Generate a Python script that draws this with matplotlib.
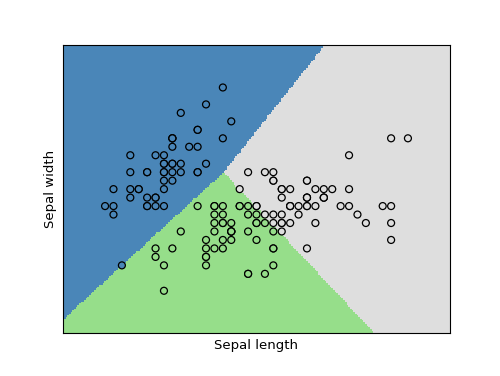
import numpy as np
import matplotlib
matplotlib.use("Agg")
import matplotlib.pyplot as plt
from matplotlib.colors import ListedColormap

# iris, first two features (sepal length, sepal width)
sepal_length = [
    5.1, 4.9, 4.7, 4.6, 5.0, 5.4, 4.6, 5.0, 4.4, 4.9, 5.4, 4.8, 4.8, 4.3, 5.8, 5.7, 5.4, 5.1, 5.7, 5.1,
    5.4, 5.1, 4.6, 5.1, 4.8, 5.0, 5.0, 5.2, 5.2, 4.7, 4.8, 5.4, 5.2, 5.5, 4.9, 5.0, 5.5, 4.9, 4.4, 5.1,
    5.0, 4.5, 4.4, 5.0, 5.1, 4.8, 5.1, 4.6, 5.3, 5.0,
    7.0, 6.4, 6.9, 5.5, 6.5, 5.7, 6.3, 4.9, 6.6, 5.2, 5.0, 5.9, 6.0, 6.1, 5.6, 6.7, 5.6, 5.8, 6.2, 5.6,
    5.9, 6.1, 6.3, 6.1, 6.4, 6.6, 6.8, 6.7, 6.0, 5.7, 5.5, 5.5, 5.8, 6.0, 5.4, 6.0, 6.7, 6.3, 5.6, 5.5,
    5.5, 6.1, 5.8, 5.0, 5.6, 5.7, 5.7, 6.2, 5.1, 5.7,
    6.3, 5.8, 7.1, 6.3, 6.5, 7.6, 4.9, 7.3, 6.7, 7.2, 6.5, 6.4, 6.8, 5.7, 5.8, 6.4, 6.5, 7.7, 7.7, 6.0,
    6.9, 5.6, 7.7, 6.3, 6.7, 7.2, 6.2, 6.1, 6.4, 7.2, 7.4, 7.9, 6.4, 6.3, 6.1, 7.7, 6.3, 6.4, 6.0, 6.9,
    6.7, 6.9, 5.8, 6.8, 6.7, 6.7, 6.3, 6.5, 6.2, 5.9]
sepal_width = [
    3.5, 3.0, 3.2, 3.1, 3.6, 3.9, 3.4, 3.4, 2.9, 3.1, 3.7, 3.4, 3.0, 3.0, 4.0, 4.4, 3.9, 3.5, 3.8, 3.8,
    3.4, 3.7, 3.6, 3.3, 3.4, 3.0, 3.4, 3.5, 3.4, 3.2, 3.1, 3.4, 4.1, 4.2, 3.1, 3.2, 3.5, 3.6, 3.0, 3.4,
    3.5, 2.3, 3.2, 3.5, 3.8, 3.0, 3.8, 3.2, 3.7, 3.3,
    3.2, 3.2, 3.1, 2.3, 2.8, 2.8, 3.3, 2.4, 2.9, 2.7, 2.0, 3.0, 2.2, 2.9, 2.9, 3.1, 3.0, 2.7, 2.2, 2.5,
    3.2, 2.8, 2.5, 2.8, 2.9, 3.0, 2.8, 3.0, 2.9, 2.6, 2.4, 2.4, 2.7, 2.7, 3.0, 3.4, 3.1, 2.3, 3.0, 2.5,
    2.6, 3.0, 2.6, 2.3, 2.7, 3.0, 2.9, 2.9, 2.5, 2.8,
    3.3, 2.7, 3.0, 2.9, 3.0, 3.0, 2.5, 2.9, 2.5, 3.6, 3.2, 2.7, 3.0, 2.5, 2.8, 3.2, 3.0, 3.8, 2.6, 2.2,
    3.2, 2.8, 2.8, 2.7, 3.3, 3.2, 2.8, 3.0, 2.8, 3.0, 2.8, 3.8, 2.8, 2.8, 2.6, 3.0, 3.4, 3.1, 3.0, 3.1,
    3.1, 3.1, 2.7, 3.2, 3.3, 3.0, 2.5, 3.0, 3.4, 3.0]

# linear decision functions: score = a*x + b*y + c
coef_x = [-7.25, -1.06, 0.0]
coef_y = [5.8, -1.0, 0.0]
intercept = [21.68, 9.45, 0.0]

region_colors = ["#4a86b8", "#96de8a", "#dedede"]


def predict(x, y):
    scores = np.stack([a * x + b * y + c for a, b, c in zip(coef_x, coef_y, intercept)])
    return scores.argmax(axis=0)


X = np.column_stack([sepal_length, sepal_width])

h = .02
x_min, x_max = X[:, 0].min() - .5, X[:, 0].max() + .5
y_min, y_max = X[:, 1].min() - .5, X[:, 1].max() + .5
xx, yy = np.meshgrid(np.arange(x_min, x_max, h), np.arange(y_min, y_max, h))
Z = predict(xx, yy)

# points take the colour of the region they fall in
Y_pred = predict(X[:, 0], X[:, 1])

cmap = ListedColormap(region_colors)

fig = plt.figure(figsize=(5, 3.76), dpi=100)
ax = fig.add_axes([0.126, 0.114, 0.774, 0.766])
ax.pcolormesh(xx, yy, Z, cmap=cmap, vmin=0, vmax=2, shading="auto")
ax.scatter(X[:, 0], X[:, 1], c=Y_pred, edgecolors='k', cmap=cmap, vmin=0, vmax=2, s=25, linewidths=0.9)
ax.set_xlabel('Sepal length', fontsize=9.5)
ax.set_ylabel('Sepal width', fontsize=9.5)
ax.set_xlim(xx.min(), xx.max())
ax.set_ylim(yy.min(), yy.max())
ax.set_xticks(())
ax.set_yticks(())

fig.savefig("out.png", dpi=100)
